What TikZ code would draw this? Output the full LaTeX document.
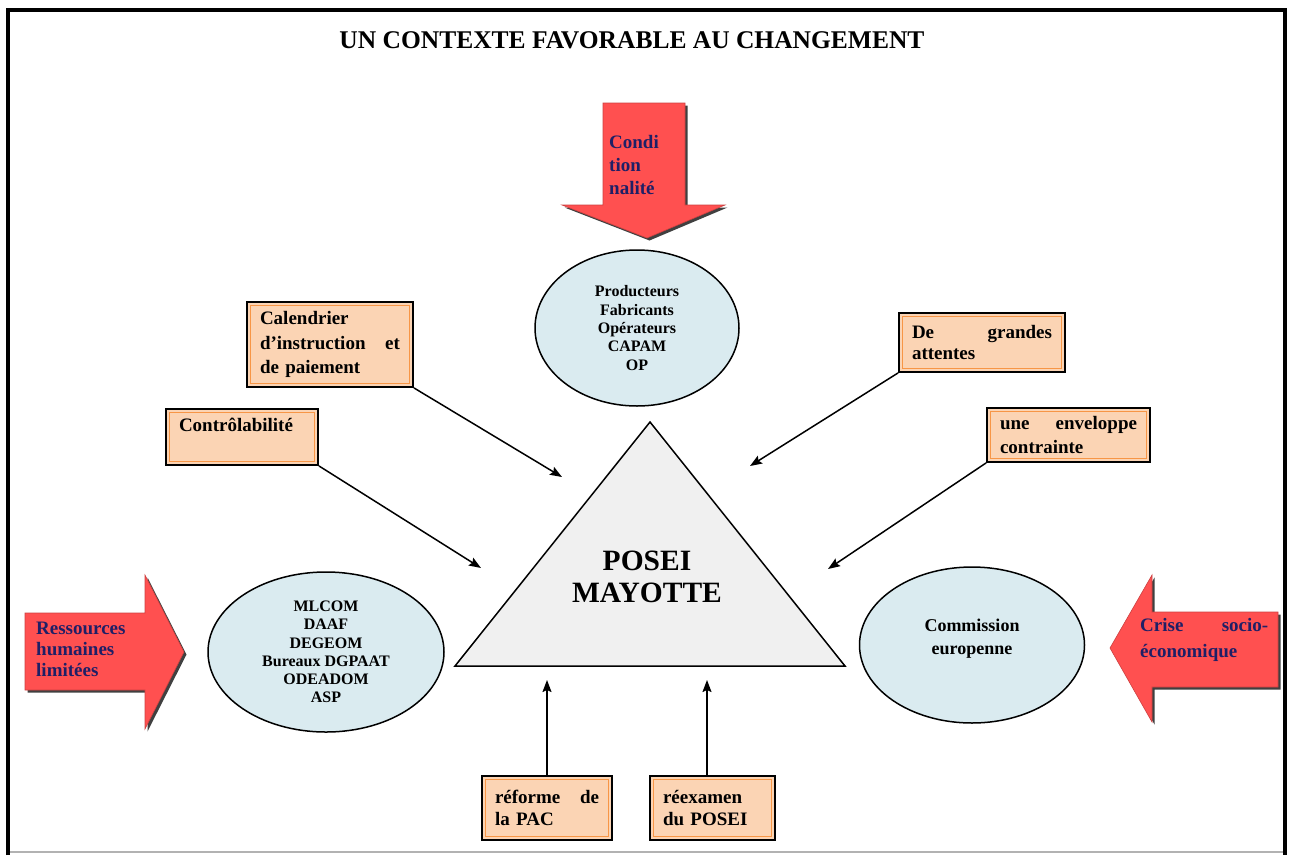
\documentclass[tikz,border=0pt]{standalone}
\usepackage{fontspec}
\setmainfont{Liberation Serif}
\usetikzlibrary{shapes.geometric,arrows.meta,calc}

\definecolor{peach}{HTML}{FBD4B4}
\definecolor{peachline}{HTML}{F79646}
\definecolor{iceblue}{HTML}{DAEBF0}
\definecolor{alarm}{HTML}{FF5050}
\definecolor{navy}{HTML}{1F1F66}
\definecolor{trigrey}{HTML}{F0F0F0}

\begin{document}
\begin{tikzpicture}[x=1pt,y=-1pt,
  peachbox/.style={rectangle, draw=black, line width=1.8pt, fill=peach,
    inner xsep=13pt, inner ysep=0pt, align=left,
    font=\fontsize{19}{24.5}\selectfont\bfseries,
    path picture={\draw[peachline, line width=1.2pt]
      ([shift={(3.2pt,3.2pt)}]path picture bounding box.south west) rectangle
      ([shift={(-3.2pt,-3.2pt)}]path picture bounding box.north east);}},
  oval/.style={ellipse, draw=black, line width=1.5pt, fill=iceblue,
    inner sep=0pt, align=center},
  ovaltext/.style={font=\fontsize{16}{18.3}\selectfont\bfseries},
  bigarrow/.style={fill=alarm, draw=alarm!80!black, line width=0.6pt},
  arrowshadow/.style={fill=black!75, draw=none},
  arrowtext/.style={inner sep=0pt, align=left, text=navy,
    font=\fontsize{19}{22}\selectfont\bfseries},
  conn/.style={line width=1.5pt, -{Stealth[length=12pt,width=9pt,inset=2pt]}}
]
\useasboundingbox (0,0) rectangle (1291,855);

% page frame
\draw[black!30, line width=2pt] (10,852) -- (1285,852);
\draw[black, line width=4pt] (8,855) -- (8,10) -- (1285,10) -- (1285,855);

% title
\node[font=\fontsize{25.5}{28}\selectfont\bfseries] (title) at (632,40)
  {UN CONTEXTE FAVORABLE AU CHANGEMENT};

% central triangle
\coordinate (apex) at (650,422);
\coordinate (baseR) at (845,666);
\coordinate (baseL) at (455,666);
\draw[line width=1.5pt, fill=trigrey] (apex) -- (baseR) -- (baseL) -- cycle;
\node[align=center, font=\fontsize{29.5}{32}\selectfont\bfseries] (posei)
  at (647,577) {POSEI\\MAYOTTE};

% block arrows (shadow first, then the arrow)
\fill[arrowshadow, shift={(2.5pt,-2.5pt)}]
  (603,103) -- (685,103) -- (685,205) -- (725,205) -- (647,238) -- (562,205) -- (603,205) -- cycle;
\draw[bigarrow]
  (603,103) -- (685,103) -- (685,205) -- (725,205) -- (647,238) -- (562,205) -- (603,205) -- cycle;
\node[arrowtext, anchor=west, text width=72pt, font=\fontsize{19}{23}\selectfont\bfseries]
  (cond) at (609,165) {Condi\\tion\\nalité};

\fill[arrowshadow, shift={(2.5pt,-2.5pt)}]
  (25,613) -- (145,613) -- (145,575) -- (184,652) -- (145,729) -- (145,690) -- (25,690) -- cycle;
\draw[bigarrow]
  (25,613) -- (145,613) -- (145,575) -- (184,652) -- (145,729) -- (145,690) -- (25,690) -- cycle;
\node[arrowtext, anchor=west, text width=100pt, font=\fontsize{19}{21}\selectfont\bfseries]
  (ress) at (36,649) {Ressources\\humaines\\limitées};

\fill[arrowshadow, shift={(2.5pt,-2.5pt)}]
  (1278,612) -- (1152,612) -- (1152,575) -- (1110,648) -- (1152,722) -- (1152,687) -- (1278,687) -- cycle;
\draw[bigarrow]
  (1278,612) -- (1152,612) -- (1152,575) -- (1110,648) -- (1152,722) -- (1152,687) -- (1278,687) -- cycle;
\node[arrowtext, anchor=west, text width=128pt, font=\fontsize{19}{26}\selectfont\bfseries]
  (crise) at (1140,640) {Crise\hfill socio-\\économique};

% actors
\node[oval, ovaltext, minimum width=204pt, minimum height=156pt] (acteurs) at (637,328)
  {Producteurs\\Fabricants\\Opérateurs\\CAPAM\\OP};
\node[oval, ovaltext, minimum width=236pt, minimum height=160pt] (admin) at (326,652)
  {MLCOM\\DAAF\\DEGEOM\\Bureaux DGPAAT\\ODEADOM\\ASP};
\node[oval, minimum width=225pt, minimum height=156pt] (commission) at (972,645) {};
\node[align=center, font=\fontsize{18}{23}\selectfont\bfseries] (commtext) at (972,638.5)
  {Commission\\europenne};

% context boxes
\node[peachbox, text width=140pt, minimum height=85pt] (cal) at (330,344.5)
  {Calendrier\\d’instruction\hfill et\\de paiement};
\node[peachbox, text width=126pt, minimum height=56pt] (ctrl) at (242,437)
  {Contrôlabilité\\\mbox{}};
\node[peachbox, text width=140pt, minimum height=59pt, font=\fontsize{19}{21}\selectfont\bfseries]
  (attentes) at (982,342.5) {De\hfill grandes\\attentes};
\node[peachbox, text width=137pt, minimum height=54pt] (env) at (1068.5,435)
  {une\hfill enveloppe\\contrainte};
\node[peachbox, text width=104pt, minimum height=64pt, font=\fontsize{19}{22}\selectfont\bfseries]
  (pac) at (547,808) {réforme\hfill de\\la PAC};
\node[peachbox, text width=99pt, minimum height=64pt, font=\fontsize{19}{22}\selectfont\bfseries]
  (reex) at (712.5,808) {réexamen\\du POSEI};

% connector end points near the triangle
\coordinate (t1) at (562,477);
\coordinate (t2) at (481,568);
\coordinate (t3) at (750,466);
\coordinate (t4) at (828,569);
\coordinate (t5) at (547,680);
\coordinate (t6) at (707,680);

\draw[conn] (cal.south east) -- (t1);
\draw[conn] (ctrl.south east) -- (t2);
\draw[conn] (attentes.south west) -- (t3);
\draw[conn] (env.south west) -- (t4);
\draw[conn] (pac.north) -- (t5);
\draw[conn] (reex.north -| t6) -- (t6);
\end{tikzpicture}
\end{document}
